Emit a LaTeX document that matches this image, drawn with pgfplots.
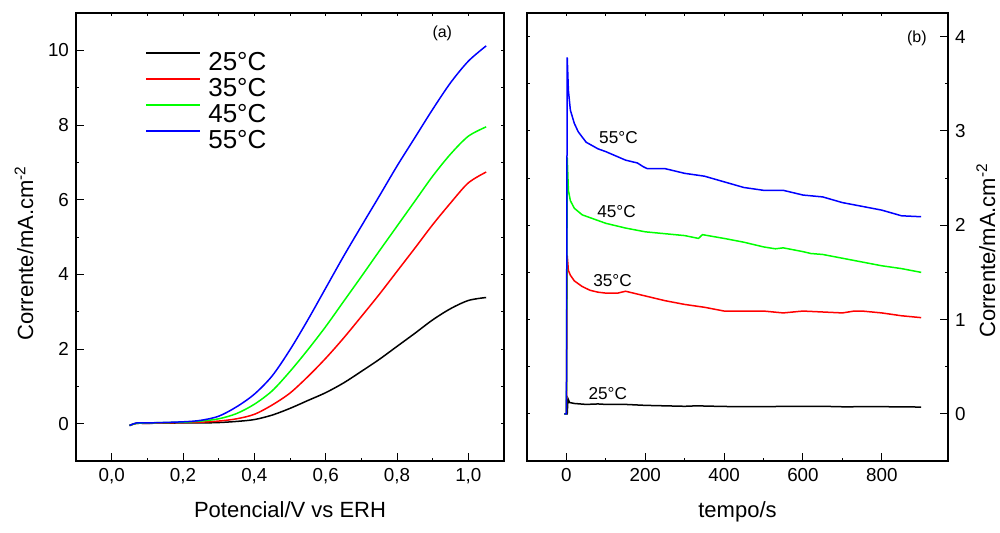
\documentclass[border=0pt]{standalone}
\usepackage{fontspec}
\setmainfont{Liberation Sans}
\usepackage{pgfplots}
\pgfplotsset{compat=1.18}

\definecolor{cBlack}{RGB}{0,0,0}
\definecolor{cRed}{RGB}{255,0,0}
\definecolor{cGreen}{RGB}{0,255,0}
\definecolor{cBlue}{RGB}{0,0,255}

\pgfplotsset{
  panel/.style={
    scale only axis, width=#1, height=224pt,
    axis line style={line width=0.6pt},
    every tick/.style={black, line width=0.5pt},
    tick label style={font=\fontsize{9.4}{11}\selectfont},
    label style={font=\fontsize{11}{13}\selectfont},
    /pgf/number format/assume math mode=true,
  },
  mirror/.style={
    xticklabels={}, yticklabels={}, tick pos=both, major tick length=1.5pt,
    minor tick length=1.5pt, minor tick num=1, axis line style={line width=0.6pt},
  },
  curve/.style={line width=0.75pt, no markers},
}

\begin{document}
\begin{tikzpicture}
\useasboundingbox (0,0) rectangle (500pt,266pt);

% ---------- (a) polarisation curves ----------
\begin{axis}[panel=214pt, at={(38pt,35.5pt)}, anchor=south west,
  xmin=-0.1, xmax=1.1, ymin=-1, ymax=11,
  xtick={0,0.2,...,1.0}, ytick={0,2,...,10},
  xtick pos=bottom, ytick pos=left, major tick length=4pt,
  xticklabel style={/pgf/number format/.cd, use comma, fixed, fixed zerofill, precision=1},
  xlabel={Potencial/V vs ERH},
  ylabel={Corrente/mA.cm\textsuperscript{-2}},
  xlabel style={at={(rel axis cs:0.5,-0.127)}, anchor=base},
  ylabel style={at={(rel axis cs:-0.1215,0.464)}, anchor=center},
  legend style={at={(rel axis cs:0.161,0.915)}, anchor=north west, draw=none, fill=none,
    font=\fontsize{13}{15}\selectfont, inner sep=0pt, row sep=2.5pt, column sep=3.5pt,
    nodes={inner sep=0pt, text height=9.5pt, text depth=1pt}},
  legend cell align=left,
  legend image code/.code={\draw[#1, line width=1pt] (0pt,4.5pt) -- (27pt,4.5pt);},
]
\addplot[curve, cBlack, smooth] coordinates {
 (0.05,-0.05) (0.07,0.01) (0.1,0.01) (0.2,0.02) (0.25,0.02) (0.3,0.03) (0.35,0.06)
 (0.4,0.11) (0.45,0.23) (0.5,0.41) (0.55,0.62) (0.6,0.83) (0.65,1.09) (0.7,1.4)
 (0.75,1.72) (0.8,2.07) (0.85,2.42) (0.9,2.78) (0.95,3.08) (1.0,3.3) (1.05,3.38)};
\addplot[curve, cRed, smooth] coordinates {
 (0.05,-0.05) (0.07,0.01) (0.1,0.01) (0.2,0.03) (0.25,0.04) (0.3,0.07) (0.35,0.13)
 (0.4,0.25) (0.45,0.5) (0.5,0.82) (0.55,1.26) (0.6,1.75) (0.65,2.29) (0.7,2.87)
 (0.75,3.46) (0.8,4.08) (0.85,4.7) (0.9,5.33) (0.95,5.91) (1.0,6.45) (1.05,6.74)};
\addplot[curve, cGreen, smooth] coordinates {
 (0.05,-0.05) (0.07,0.01) (0.1,0.02) (0.2,0.04) (0.25,0.07) (0.3,0.13) (0.35,0.27)
 (0.4,0.52) (0.45,0.88) (0.5,1.4) (0.55,1.98) (0.6,2.6) (0.65,3.27) (0.7,3.94)
 (0.75,4.62) (0.8,5.29) (0.85,5.96) (0.9,6.63) (0.95,7.22) (1.0,7.7) (1.05,7.95)};
\addplot[curve, cBlue, smooth] coordinates {
 (0.05,-0.05) (0.07,0.02) (0.1,0.02) (0.2,0.05) (0.25,0.09) (0.3,0.2) (0.35,0.45)
 (0.4,0.79) (0.45,1.28) (0.5,1.98) (0.55,2.78) (0.6,3.63) (0.65,4.48) (0.7,5.29)
 (0.75,6.09) (0.8,6.9) (0.85,7.66) (0.9,8.42) (0.95,9.13) (1.0,9.71) (1.05,10.12)};
\legend{25°C, 35°C, 45°C, 55°C}
\node[font=\fontsize{8}{9}\selectfont] at (axis cs:0.927,10.46) {(a)};
\end{axis}
\begin{axis}[panel=214pt, mirror, at={(38pt,35.5pt)}, anchor=south west,
  xmin=-0.1, xmax=1.1, ymin=-1, ymax=11,
  xtick={0,0.2,...,1.0}, ytick={0,2,...,10}]
\end{axis}

% ---------- (b) chronoamperometry ----------
\begin{axis}[panel=210.5pt, at={(263.5pt,35.5pt)}, anchor=south west,
  xmin=-100, xmax=968, ymin=-0.5, ymax=4.25,
  xtick={0,200,...,800}, ytick={0,1,...,4},
  xtick pos=bottom, ytick pos=right, major tick length=4pt,
  xlabel={tempo/s},
  ylabel={Corrente/mA.cm\textsuperscript{-2}},
  xlabel style={at={(rel axis cs:0.5,-0.127)}, anchor=base},
  ylabel style={at={(rel axis cs:1.09,0.47)}, anchor=center},
]
\addplot[curve, cBlack] coordinates {
 (-5,0) (0,0) (2,0) (4,0.16) (8,0.12) (20,0.11) (50,0.1) (80,0.105) (100,0.1)
 (150,0.1) (200,0.09) (250,0.085) (300,0.08) (330,0.085) (400,0.078) (500,0.077)
 (600,0.08) (650,0.08) (700,0.075) (800,0.076) (900,0.072)};
\addplot[curve, cRed] coordinates {
 (-5,0) (0,0) (2,1.68) (5,1.52) (10,1.47) (20,1.41) (40,1.35) (60,1.31) (80,1.29)
 (100,1.28) (130,1.28) (150,1.3) (170,1.28) (200,1.25) (250,1.2) (300,1.16)
 (350,1.13) (400,1.09) (450,1.09) (500,1.09) (550,1.07) (575,1.08) (600,1.09)
 (650,1.08) (700,1.07) (730,1.09) (750,1.09) (800,1.07) (850,1.04) (900,1.02)};
\addplot[curve, cGreen] coordinates {
 (-5,0) (0,0) (2,2.72) (5,2.37) (10,2.26) (20,2.18) (40,2.11) (60,2.08) (100,2.02)
 (150,1.97) (200,1.93) (250,1.91) (300,1.89) (335,1.86) (345,1.9) (400,1.86)
 (450,1.82) (500,1.77) (530,1.75) (550,1.76) (600,1.72) (620,1.7) (650,1.69)
 (700,1.65) (750,1.61) (800,1.57) (850,1.54) (900,1.5)};
\addplot[curve, cBlue] coordinates {
 (-5,0) (0,0) (2,3.78) (5,3.43) (10,3.22) (20,3.08) (30,2.99) (50,2.88) (80,2.81)
 (100,2.78) (150,2.69) (180,2.66) (195,2.62) (205,2.6) (250,2.6) (300,2.55)
 (350,2.52) (400,2.46) (450,2.4) (500,2.37) (550,2.37) (600,2.32) (650,2.3)
 (700,2.24) (750,2.2) (800,2.16) (850,2.1) (900,2.09)};
\node[font=\fontsize{8.6}{10}\selectfont] at (axis cs:132,2.93) {55°C};
\node[font=\fontsize{8.6}{10}\selectfont] at (axis cs:127,2.14) {45°C};
\node[font=\fontsize{8.6}{10}\selectfont] at (axis cs:117,1.41) {35°C};
\node[font=\fontsize{8.6}{10}\selectfont] at (axis cs:105,0.22) {25°C};
\node[font=\fontsize{8}{9}\selectfont] at (axis cs:889,3.98) {(b)};
\end{axis}
\begin{axis}[panel=210.5pt, mirror, at={(263.5pt,35.5pt)}, anchor=south west,
  xmin=-100, xmax=968, ymin=-0.5, ymax=4.25,
  xtick={0,200,...,800}, ytick={0,1,...,4}]
\end{axis}
\end{tikzpicture}
\end{document}
